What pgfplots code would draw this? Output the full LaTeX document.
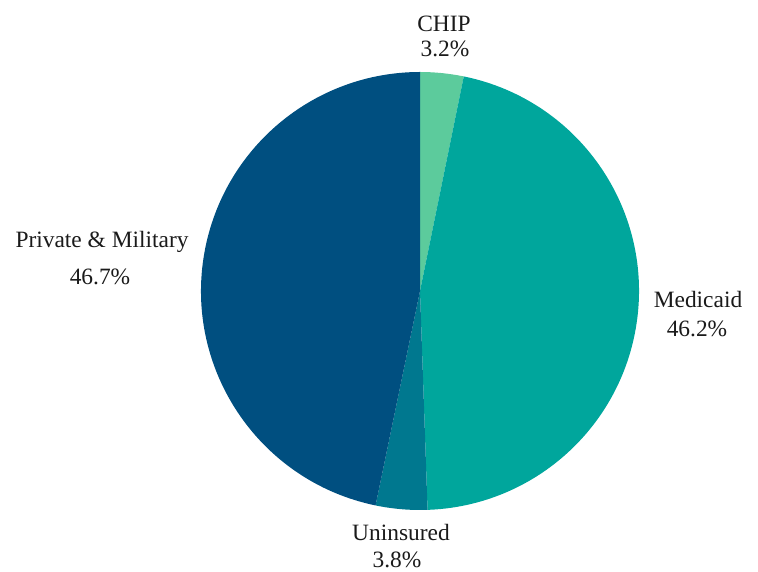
\documentclass[border=0pt]{standalone}
\usepackage{pgfplots}
\pgfplotsset{compat=1.18}
\usepackage{pgfplotstable}
\usepackage{fontspec}
\setmainfont{Liberation Serif}
\definecolor{chip}{HTML}{5CCB9C}
\definecolor{medicaid}{HTML}{00A69C}
\definecolor{uninsured}{HTML}{00788F}
\definecolor{private}{HTML}{004F80}
\definecolor{txt}{HTML}{1A1A1A}
\pgfplotstableread{
value col
3.2 chip
46.2 medicaid
3.8 uninsured
46.7 private
}\piedata
\begin{document}
\begin{tikzpicture}
\begin{axis}[hide axis, scale only axis, width=758bp, height=572bp,
  xmin=0, xmax=758, ymin=0, ymax=572, clip=false]
\path (axis cs:0,0) rectangle (axis cs:758,572);
\pgfplotstablegetrowsof{\piedata}
\pgfmathtruncatemacro{\nrows}{\pgfplotsretval-1}
\gdef\total{0}
\pgfplotsforeachungrouped \i in {0,...,\nrows}{%
  \pgfplotstablegetelem{\i}{value}\of\piedata
  \pgfmathsetmacro{\tmp}{\total+\pgfplotsretval}%
  \xdef\total{\tmp}%
}
\gdef\cum{90}
\pgfplotsforeachungrouped \i in {0,...,\nrows}{%
  \pgfplotstablegetelem{\i}{value}\of\piedata
  \pgfmathsetmacro{\ang}{\pgfplotsretval/\total*360}%
  \pgfplotstablegetelem{\i}{col}\of\piedata
  \edef\col{\pgfplotsretval}%
  \pgfmathsetmacro{\endang}{\cum-\ang}%
  \edef\temp{\noexpand\fill[\col] (axis cs:420,281) -- ++(\cum:219bp) arc[start angle=\cum, end angle=\endang, radius=219bp] -- cycle;}%
  \temp
  \xdef\cum{\endang}%
}
\tikzset{lab/.style={anchor=base, text=txt, font=\fontsize{23.5}{28}\selectfont, inner sep=0pt}}
\node[lab] at (axis cs:444,540) {CHIP};
\node[lab] at (axis cs:445,515) {3.2\%};
\node[lab] at (axis cs:698,264) {Medicaid};
\node[lab] at (axis cs:697,235) {46.2\%};
\node[lab] at (axis cs:401,31.5) {Uninsured};
\node[lab] at (axis cs:397,5) {3.8\%};
\node[lab] at (axis cs:102,324) {Private \& Military};
\node[lab] at (axis cs:100,287) {46.7\%};
\end{axis}
\end{tikzpicture}
\end{document}
